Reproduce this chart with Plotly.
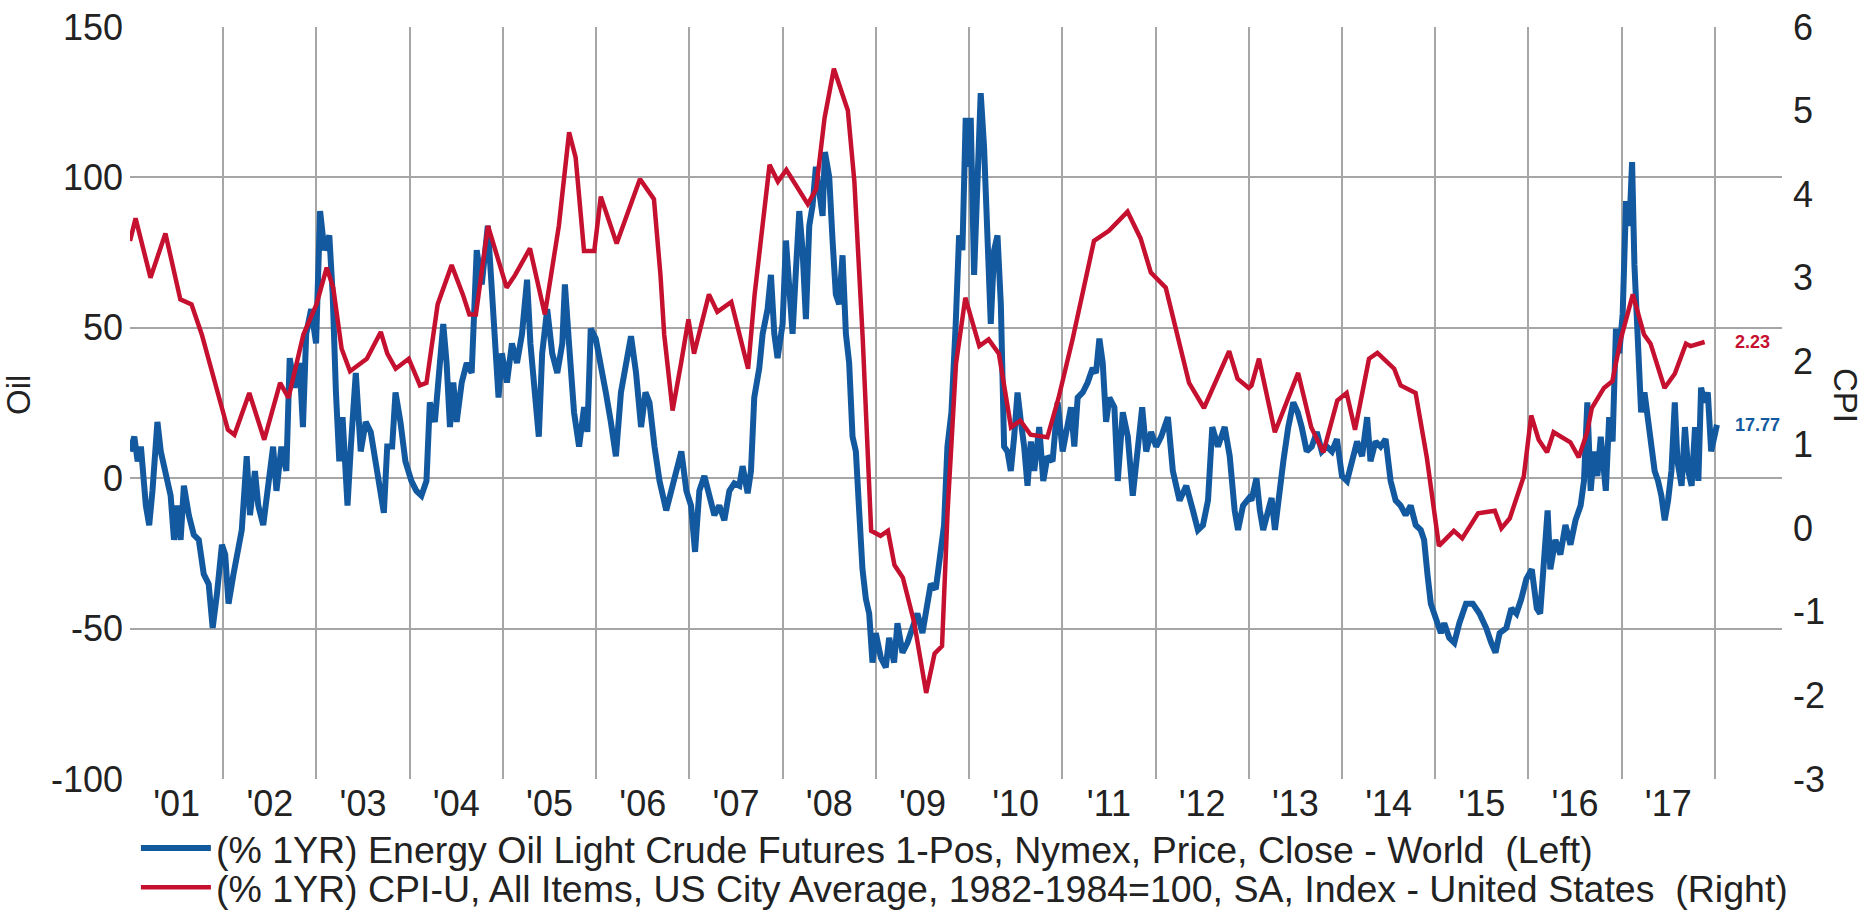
import plotly.graph_objects as go

# ------------------------------------------------------------------------------------------------------------
# data (x = decimal year)
years = list(range(2001, 2018))
year_labels = ["'01", "'02", "'03", "'04", "'05", "'06", "'07", "'08", "'09",
               "'10", "'11", "'12", "'13", "'14", "'15", "'16", "'17"]
grid_years = list(range(2001, 2019))
oil_ticks = [-100, -50, 0, 50, 100, 150]
cpi_ticks = [-3, -2, -1, 0, 1, 2, 3, 4, 5, 6]

# (% 1YR) Oil light crude futures, left axis
oil_pts = [
    (2001.000, 8.9), (2001.046, 13.8), (2001.082, 5.6), (2001.117, 10.5), (2001.170, -9.1), (2001.206, -15.6),
    (2001.241, -4.2), (2001.294, 18.7), (2001.330, 8.9), (2001.383, 0.7), (2001.436, -5.8), (2001.472, -20.5),
    (2001.507, -9.1), (2001.543, -20.5), (2001.578, -2.5), (2001.631, -12.3), (2001.684, -18.8), (2001.738, -20.5),
    (2001.791, -31.9), (2001.844, -35.2), (2001.887, -49.8), (2001.933, -38.4), (2001.986, -22.1), (2002.021, -25.4),
    (2002.057, -41.7), (2002.110, -31.9), (2002.163, -23.7), (2002.199, -17.2), (2002.252, 7.3), (2002.287, -12.3),
    (2002.340, 2.4), (2002.376, -9.1), (2002.429, -15.6), (2002.482, -4.2), (2002.535, 10.5), (2002.571, -4.2),
    (2002.624, 10.5), (2002.677, 2.4), (2002.713, 39.9), (2002.766, 30.1), (2002.819, 38.3), (2002.855, 17.0),
    (2002.890, 48.0), (2002.943, 56.2), (2002.996, 44.8), (2003.039, 88.8), (2003.085, 75.8), (2003.138, 80.7),
    (2003.174, 61.1), (2003.209, 28.5), (2003.245, 5.6), (2003.280, 20.3), (2003.333, -9.1), (2003.369, 10.5),
    (2003.422, 35.0), (2003.475, 8.9), (2003.528, 18.7), (2003.582, 15.4), (2003.652, 2.4), (2003.723, -11.5),
    (2003.759, 10.5), (2003.812, 10.5), (2003.848, 28.5), (2003.901, 18.7), (2003.954, 5.6),
    (2004.018, -0.9), (2004.072, -4.2), (2004.126, -5.8), (2004.180, -0.9), (2004.216, 25.2), (2004.270, 18.7),
    (2004.324, 41.5), (2004.360, 51.3), (2004.396, 38.3), (2004.432, 17.0), (2004.468, 31.8), (2004.504, 18.7),
    (2004.558, 31.8), (2004.612, 38.3), (2004.665, 35.0), (2004.719, 75.8), (2004.773, 64.4), (2004.838, 83.9),
    (2004.881, 62.7), (2004.917, 39.9), (2004.953, 26.8), (2004.989, 41.5), (2005.043, 31.8), (2005.097, 44.8),
    (2005.151, 38.3), (2005.205, 48.0), (2005.259, 66.0), (2005.295, 44.8), (2005.349, 25.2), (2005.385, 13.8),
    (2005.421, 41.5), (2005.475, 56.2), (2005.529, 41.5), (2005.583, 35.0), (2005.637, 44.8), (2005.665, 64.4),
    (2005.709, 44.8), (2005.763, 21.9), (2005.817, 10.5), (2005.871, 23.6), (2005.906, 15.4), (2005.942, 49.7),
    (2005.996, 46.4), (2006.050, 38.3), (2006.104, 28.5), (2006.158, 18.7), (2006.212, 7.3), (2006.266, 28.5),
    (2006.320, 38.3), (2006.374, 47.2), (2006.428, 35.0), (2006.482, 17.0), (2006.529, 28.5), (2006.572, 25.2),
    (2006.626, 10.5), (2006.680, -0.9), (2006.752, -10.7), (2006.806, -4.2), (2006.860, 2.4), (2006.914, 8.9),
    (2006.968, -4.2),
    (2007.018, -9.1), (2007.061, -24.5), (2007.107, -4.2), (2007.161, 0.7), (2007.214, -6.6), (2007.268, -12.3),
    (2007.321, -9.1), (2007.375, -14.0), (2007.429, -4.2), (2007.482, -1.7), (2007.536, -2.5), (2007.571, 4.0),
    (2007.625, -5.0), (2007.661, 2.4), (2007.696, 26.8), (2007.750, 36.6), (2007.786, 48.0), (2007.839, 56.2),
    (2007.875, 67.6), (2007.911, 48.0), (2007.946, 39.9), (2008.000, 51.3), (2008.036, 79.0), (2008.071, 64.4),
    (2008.107, 48.0), (2008.143, 69.2), (2008.179, 88.8), (2008.214, 75.8), (2008.250, 52.9), (2008.286, 83.9),
    (2008.321, 90.5), (2008.357, 103.5), (2008.393, 95.3), (2008.429, 87.2), (2008.454, 108.4), (2008.500, 100.2),
    (2008.536, 79.0), (2008.571, 61.1), (2008.607, 57.8), (2008.643, 74.1), (2008.679, 48.0), (2008.714, 38.3),
    (2008.750, 13.8), (2008.786, 8.9), (2008.821, -10.7), (2008.857, -30.3), (2008.893, -40.1), (2008.929, -45.0),
    (2008.964, -61.3), (2009.000, -51.5), (2009.054, -59.7), (2009.107, -62.9), (2009.143, -53.1), (2009.196, -61.3),
    (2009.232, -48.2), (2009.286, -58.0), (2009.339, -54.7), (2009.393, -49.8), (2009.446, -45.0), (2009.500, -51.5),
    (2009.554, -40.1), (2009.589, -35.2), (2009.643, -36.9), (2009.696, -23.7), (2009.732, -15.6), (2009.768, 10.5),
    (2009.811, 21.9), (2009.857, 51.3), (2009.893, 80.7), (2009.929, 75.8), (2009.964, 119.8), (2010.000, 103.5),
    (2010.018, 119.8), (2010.054, 67.6), (2010.090, 106.8), (2010.125, 128.0), (2010.161, 110.1), (2010.197, 83.9),
    (2010.233, 51.3), (2010.269, 75.8), (2010.305, 80.7), (2010.341, 57.8), (2010.376, 10.5), (2010.412, 8.9),
    (2010.448, 2.4), (2010.484, 13.8), (2010.520, 28.5), (2010.556, 18.7), (2010.591, 10.5), (2010.627, -2.5),
    (2010.663, 12.2), (2010.699, 2.4), (2010.753, 17.0), (2010.796, -0.9), (2010.842, 7.3), (2010.896, 5.6),
    (2010.950, 25.2), (2011.004, 8.9), (2011.039, 15.4), (2011.093, 23.6), (2011.129, 10.5), (2011.165, 26.8),
    (2011.219, 28.5), (2011.272, 31.8), (2011.326, 36.6), (2011.362, 35.0), (2011.398, 46.4), (2011.434, 38.3),
    (2011.470, 18.7), (2011.505, 26.8), (2011.559, 23.6), (2011.595, -0.9), (2011.649, 21.9), (2011.703, 13.8),
    (2011.756, -5.8), (2011.810, 12.2), (2011.857, 23.6), (2011.900, 8.9), (2011.953, 15.4), (2012.007, 10.5),
    (2012.061, 13.8), (2012.133, 20.3), (2012.186, 2.4), (2012.258, -7.4), (2012.330, -2.5), (2012.401, -10.7),
    (2012.455, -17.2), (2012.509, -15.6), (2012.563, -7.4), (2012.609, 17.0), (2012.670, 10.5), (2012.742, 17.0),
    (2012.796, 7.3), (2012.849, -10.7), (2012.885, -17.2), (2012.939, -9.1), (2013.004, -6.6),
    (2013.029, -7.4), (2013.083, 0.0), (2013.119, -10.7), (2013.155, -17.2), (2013.209, -10.7), (2013.245, -6.6),
    (2013.281, -17.2), (2013.317, -7.4), (2013.371, 5.6), (2013.424, 17.0), (2013.478, 25.2), (2013.525, 21.9),
    (2013.568, 17.0), (2013.622, 8.9), (2013.676, 10.5), (2013.730, 15.4), (2013.784, 8.9), (2013.838, 10.5),
    (2013.892, 8.9), (2013.946, 13.0), (2014.000, 0.7), (2014.054, -0.9), (2014.108, 5.6), (2014.162, 12.2),
    (2014.216, 7.3), (2014.270, 20.3), (2014.306, 5.6), (2014.360, 12.2), (2014.414, 10.5), (2014.468, 13.0),
    (2014.522, -0.9), (2014.576, -7.4), (2014.629, -9.1), (2014.683, -12.3), (2014.737, -9.1), (2014.791, -15.6),
    (2014.845, -17.2), (2014.881, -20.5), (2014.917, -31.9), (2014.953, -41.7), (2015.007, -46.6), (2015.061, -51.5),
    (2015.097, -48.2), (2015.151, -53.1), (2015.205, -54.7), (2015.259, -48.2), (2015.331, -41.7), (2015.403, -41.7),
    (2015.475, -45.0), (2015.547, -49.8), (2015.601, -54.7), (2015.647, -58.0), (2015.691, -51.5), (2015.763, -49.8),
    (2015.817, -43.3), (2015.871, -45.0), (2015.924, -40.1), (2015.978, -33.5),
    (2016.036, -30.3), (2016.090, -43.3), (2016.126, -45.0), (2016.162, -31.9), (2016.206, -10.7), (2016.235, -30.3),
    (2016.289, -20.5), (2016.343, -25.4), (2016.397, -15.6), (2016.451, -22.1), (2016.505, -14.0), (2016.560, -9.1),
    (2016.596, -0.9), (2016.632, 25.2), (2016.668, -4.2), (2016.704, 8.9), (2016.740, 0.7), (2016.776, 13.8),
    (2016.830, -4.2), (2016.866, 20.3), (2016.903, 12.2), (2016.939, 49.7), (2016.975, 41.5), (2017.011, 54.6),
    (2017.047, 92.1), (2017.083, 83.9), (2017.112, 105.1), (2017.137, 70.9), (2017.173, 44.8), (2017.209, 21.9),
    (2017.245, 28.5), (2017.282, 18.7), (2017.318, 8.9), (2017.354, 2.4), (2017.390, -0.9), (2017.426, -5.8),
    (2017.462, -14.0), (2017.498, -7.4), (2017.534, 2.4), (2017.570, 25.2), (2017.599, 5.6), (2017.643, -2.5),
    (2017.679, 17.0), (2017.715, 2.4), (2017.751, -2.5), (2017.787, 17.0), (2017.823, -0.9), (2017.852, 30.1),
    (2017.888, 25.2), (2017.924, 28.5), (2017.960, 8.9), (2018.004, 17.0), (2018.022, 17.77),
]

# (% 1YR) CPI-U, right axis
cpi_pts = [
    (2001.00, 3.44), (2001.06, 3.71), (2001.22, 3.00), (2001.38, 3.53), (2001.54, 2.74), (2001.66, 2.68),
    (2001.77, 2.32), (2001.84, 2.03), (2001.98, 1.50), (2002.05, 1.18), (2002.12, 1.12), (2002.28, 1.62),
    (2002.44, 1.06), (2002.61, 1.74), (2002.70, 1.56), (2002.86, 2.32), (2003.00, 2.68), (2003.11, 3.12),
    (2003.18, 2.88), (2003.27, 2.15), (2003.36, 1.88), (2003.54, 2.03), (2003.69, 2.35), (2003.76, 2.09),
    (2003.85, 1.91), (2003.99, 2.03), (2004.11, 1.71), (2004.18, 1.74), (2004.30, 2.68), (2004.45, 3.15),
    (2004.57, 2.80), (2004.64, 2.56), (2004.71, 2.56), (2004.84, 3.62), (2005.04, 2.88), (2005.13, 3.03),
    (2005.29, 3.35), (2005.45, 2.56), (2005.60, 3.62), (2005.71, 4.74), (2005.78, 4.44), (2005.87, 3.32),
    (2005.98, 3.32), (2006.05, 3.97), (2006.22, 3.41), (2006.31, 3.68), (2006.47, 4.18), (2006.62, 3.94),
    (2006.69, 3.03), (2006.73, 2.32), (2006.82, 1.41), (2006.91, 1.97), (2006.99, 2.50), (2007.05, 2.09),
    (2007.21, 2.80), (2007.30, 2.59), (2007.45, 2.71), (2007.63, 1.91), (2007.70, 2.80), (2007.86, 4.35),
    (2007.95, 4.15), (2008.04, 4.29), (2008.27, 3.88), (2008.36, 4.06), (2008.45, 4.91), (2008.55, 5.50),
    (2008.70, 5.00), (2008.77, 4.15), (2008.86, 2.26), (2008.95, -0.03), (2009.05, -0.09), (2009.13, -0.03),
    (2009.20, -0.44), (2009.29, -0.59), (2009.41, -1.12), (2009.54, -1.97), (2009.63, -1.50), (2009.71, -1.41),
    (2009.77, 0.21), (2009.86, 1.97), (2009.96, 2.76), (2010.11, 2.18), (2010.21, 2.26), (2010.32, 2.09),
    (2010.45, 1.21), (2010.55, 1.29), (2010.66, 1.12), (2010.84, 1.09), (2010.96, 1.56), (2011.11, 2.26),
    (2011.34, 3.44), (2011.50, 3.56), (2011.70, 3.79), (2011.84, 3.47), (2011.95, 3.06), (2012.11, 2.88),
    (2012.36, 1.74), (2012.52, 1.44), (2012.79, 2.12), (2012.88, 1.79), (2013.00, 1.68), (2013.03, 1.71),
    (2013.11, 2.03), (2013.28, 1.15), (2013.53, 1.86), (2013.67, 1.21), (2013.80, 0.91), (2013.95, 1.53),
    (2014.05, 1.62), (2014.14, 1.18), (2014.29, 2.03), (2014.38, 2.10), (2014.56, 1.91), (2014.63, 1.71),
    (2014.79, 1.62), (2014.91, 0.85), (2015.04, -0.21), (2015.20, -0.03), (2015.29, -0.12), (2015.46, 0.18),
    (2015.64, 0.21), (2015.71, 0.00), (2015.80, 0.12), (2015.95, 0.62), (2016.03, 1.35), (2016.11, 1.06),
    (2016.20, 0.91), (2016.27, 1.15), (2016.45, 1.03), (2016.54, 0.85), (2016.63, 1.15), (2016.68, 1.44),
    (2016.81, 1.68), (2016.90, 1.76), (2016.99, 2.26), (2017.12, 2.80), (2017.24, 2.32), (2017.31, 2.21),
    (2017.46, 1.68), (2017.57, 1.85), (2017.69, 2.21), (2017.74, 2.18), (2017.89, 2.23),
]

oil_name = "(% 1YR) Energy Oil Light Crude Futures 1-Pos, Nymex, Price, Close - World  (Left)"
cpi_name = "(% 1YR) CPI-U, All Items, US City Average, 1982-1984=100, SA, Index - United States  (Right)"

BLUE = "#13599f"
RED = "#c5102f"
GRID = "#a6a6a6"
FONT = "Liberation Sans, Arial, sans-serif"

oil_t = [p[0] for p in oil_pts]
oil_v = [p[1] for p in oil_pts]
cpi_t = [p[0] for p in cpi_pts]
cpi_v = [p[1] for p in cpi_pts]

fig = go.Figure()
fig.add_trace(go.Scatter(x=oil_t, y=oil_v, name=oil_name, mode="lines",
                         line=dict(color=BLUE, width=6), legend="legend"))
fig.add_trace(go.Scatter(x=cpi_t, y=cpi_v, name=cpi_name, mode="lines", yaxis="y2",
                         line=dict(color=RED, width=4.5), legend="legend2"))

# last values at the right end of each line
fig.add_annotation(x=cpi_t[-1], y=cpi_v[-1], yref="y2", text="<b>%.2f</b>" % cpi_v[-1],
                   showarrow=False, xanchor="left", xshift=28,
                   font=dict(color=RED, size=18, family=FONT))
fig.add_annotation(x=oil_t[-1], y=oil_v[-1], text="<b>%.2f</b>" % oil_v[-1],
                   showarrow=False, xanchor="left", xshift=16,
                   font=dict(color=BLUE, size=18, family=FONT))
# axis titles: "Oil" reads upward, "CPI" reads downward
fig.add_annotation(x=0, xref="paper", y=0.5, yref="paper", text="Oil", textangle=-90,
                   showarrow=False, xanchor="center", xshift=-112, yshift=8,
                   font=dict(size=33, color="#222222", family=FONT))
fig.add_annotation(x=1, xref="paper", y=0.5, yref="paper", text="CPI", textangle=90,
                   showarrow=False, xanchor="center", xshift=64, yshift=8,
                   font=dict(size=33, color="#222222", family=FONT))

fig.update_layout(
    width=1867, height=911,
    margin=dict(l=130, r=85, t=27, b=132, autoexpand=False),
    plot_bgcolor="white", paper_bgcolor="white",
    font=dict(family=FONT, size=36, color="#222222"),
    xaxis=dict(range=[2001, 2018.72], tickmode="array",
               tickvals=[y + 0.5 for y in years], ticktext=year_labels,
               showgrid=False, zeroline=False, ticks="", automargin=False,
               minor=dict(tickmode="array", tickvals=grid_years, showgrid=True,
                          gridcolor=GRID, gridwidth=1.5, ticks="")),
    yaxis=dict(range=[-100, 150], tickmode="array", tickvals=oil_ticks,
               ticktext=[str(v) for v in oil_ticks], gridcolor=GRID, gridwidth=1.5,
               zeroline=False, ticks="", ticklabelstandoff=6, automargin=False),
    yaxis2=dict(range=[-3, 6], tickmode="array", tickvals=cpi_ticks,
                ticktext=[str(v) for v in cpi_ticks], overlaying="y", side="right",
                showgrid=False, zeroline=False, ticks="", ticklabelstandoff=10, automargin=False),
    legend=dict(x=0.0728, xanchor="left", xref="container", y=0.069, yanchor="middle",
                yref="container", font=dict(size=37.5), itemwidth=70, bgcolor="rgba(0,0,0,0)"),
    legend2=dict(x=0.0728, xanchor="left", xref="container", y=0.026, yanchor="middle",
                 yref="container", font=dict(size=37.5), itemwidth=70, bgcolor="rgba(0,0,0,0)"),
    showlegend=True,
)

# page body margin would shift the fixed-size figure
fig.write_html("out.html", config={"displayModeBar": False},
               post_script="document.body.style.margin='0px';")
